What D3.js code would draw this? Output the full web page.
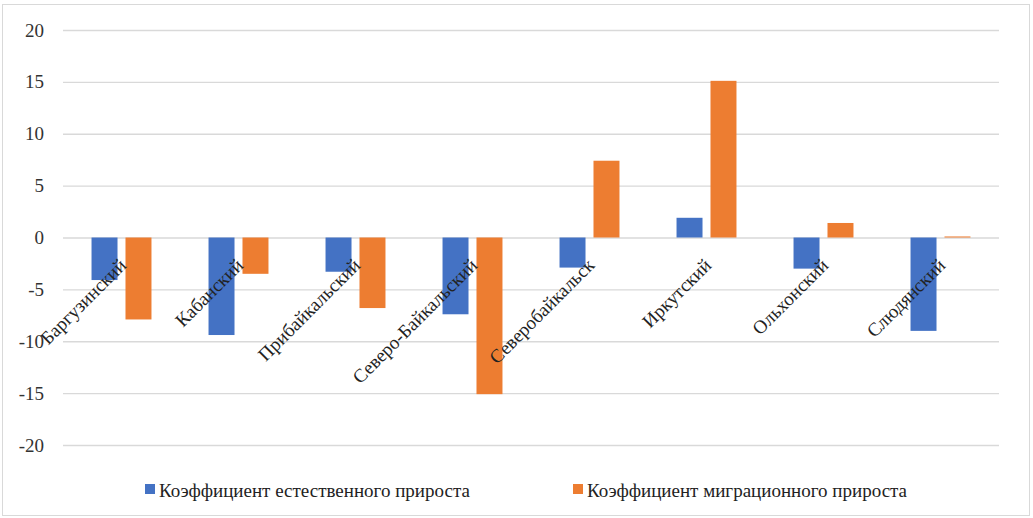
<!DOCTYPE html>
<html><head><meta charset="utf-8">
<script src="https://cdn.jsdelivr.net/npm/d3@7"></script>
<style>body{margin:0;background:#fff}svg{display:block}text{font-family:'Liberation Serif','Times New Roman',serif}</style>
</head><body><svg id="c" width="1033" height="518"></svg>
<script>
const categories = ["Баргузинский","Кабанский","Прибайкальский","Северо-Байкальский","Северобайкальск","Иркутский","Ольхонский","Слюдянский"];
const seriesNames = ["Коэффициент естественного прироста","Коэффициент миграционного прироста"];
const natural = [-4.1,-9.4,-3.3,-7.4,-2.9,1.9,-3.0,-9.0];
const migration = [-7.9,-3.5,-6.8,-15.1,7.4,15.1,1.4,0.1];
const yTicks = [-20,-15,-10,-5,0,5,10,15,20];
const colors = ["#4472C4","#ED7D31"];

const svg = d3.select("#c");
const font = "'Liberation Serif','Times New Roman',serif";
svg.append("rect").attr("x",2.5).attr("y",4.5).attr("width",1027).attr("height",511)
  .attr("fill","#fff").attr("stroke","#d9d9d9");

const y = d3.scaleLinear().domain([-20,20]).range([445,30]);
const x = d3.scaleBand().domain(categories).range([63,999]);
const xs = d3.scaleBand().domain(seriesNames).range([0,x.bandwidth()]).paddingInner(0.235).paddingOuter(0.84);

const yAxis = d3.axisLeft(y).tickValues(yTicks).tickSize(-(999-63)).tickPadding(19).tickFormat(d => String(d));
const ga = svg.append("g").attr("transform","translate(63,0)").call(yAxis);
ga.attr("font-family",font);
ga.select(".domain").remove();
ga.selectAll(".tick line").attr("stroke","#d9d9d9").attr("stroke-width",1.3);
ga.selectAll(".tick text").attr("font-family",font).style("font-family",font).attr("font-size",19).attr("fill","#333");

const data = [natural, migration];
data.forEach((vals,si)=>{
  svg.append("g").selectAll("rect").data(vals).join("rect")
    .attr("x",(d,i)=>x(categories[i])+xs(seriesNames[si]))
    .attr("width",xs.bandwidth())
    .attr("y",d=>Math.min(y(d),y(0)))
    .attr("height",d=>Math.abs(y(d)-y(0)))
    .attr("fill",colors[si]);
});

// category labels rotated
svg.append("g").selectAll("text").data(categories).join("text")
  .attr("transform",d=>`translate(${x(d)+x.bandwidth()/2+6},${y(0)+29}) rotate(-45)`)
  .attr("text-anchor","end")
  .attr("font-family",font).style("font-family",font).attr("font-size",19).attr("fill","#222")
  .text(d=>d);

// legend
const legX = [145,573];
const lg = svg.append("g");
seriesNames.forEach((s,i)=>{
  lg.append("rect").attr("x",legX[i]).attr("y",484).attr("width",10).attr("height",10).attr("fill",colors[i]);
  lg.append("text").attr("x",legX[i]+14).attr("y",497).attr("font-family",font).style("font-family",font).attr("font-size",19).attr("fill","#222").text(s);
});
</script></body></html>
